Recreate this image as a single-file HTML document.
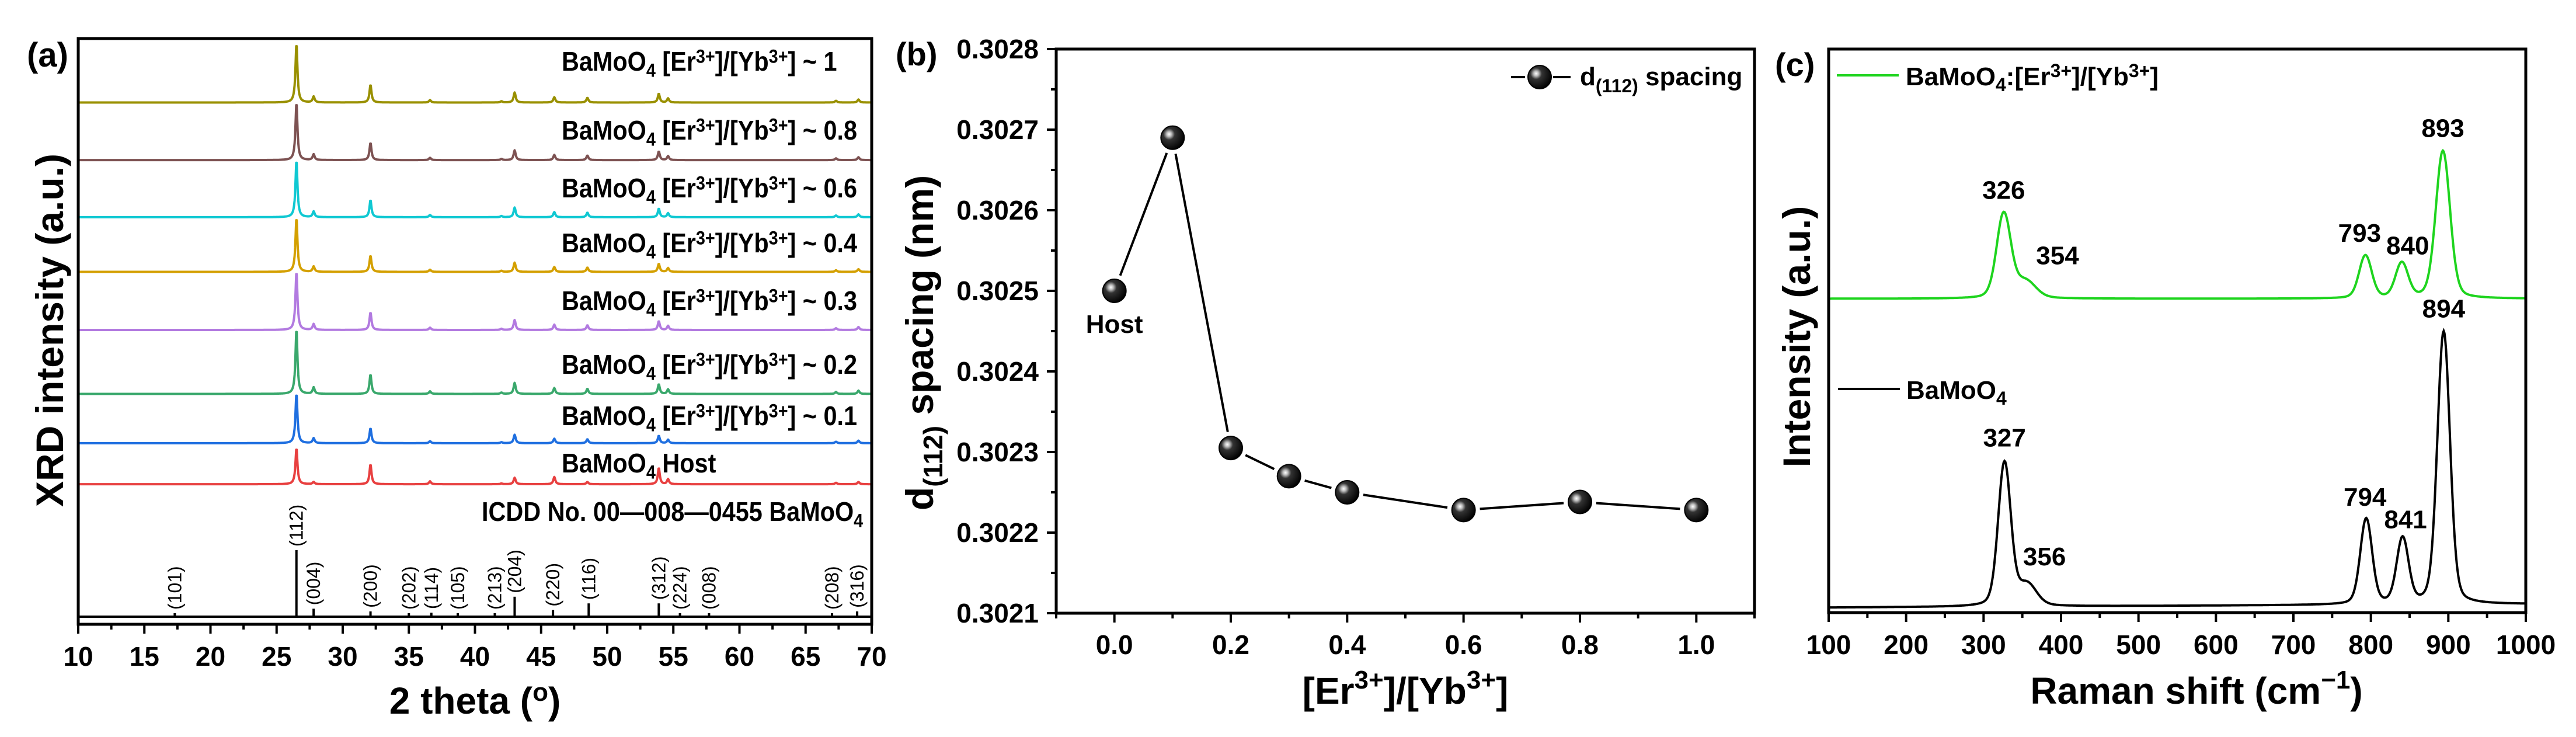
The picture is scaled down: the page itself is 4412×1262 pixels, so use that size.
<!DOCTYPE html>
<html><head><meta charset="utf-8">
<style>
html,body{margin:0;padding:0;background:#fff;}
svg{display:block;font-family:"Liberation Sans",Arial,sans-serif;font-weight:bold;}
</style></head>
<body>
<svg id="fig" width="4412" height="1262" viewBox="0 0 4412 1262" xmlns="http://www.w3.org/2000/svg">
<defs>
<radialGradient id="ball" cx="0.35" cy="0.35" r="0.7">
<stop offset="0" stop-color="#ffffff"/><stop offset="0.15" stop-color="#bbbbbb"/><stop offset="0.35" stop-color="#333"/><stop offset="1" stop-color="#000"/>
</radialGradient>
</defs>
<g id="pa"></g>
<g id="pb"></g>
<g id="pc"></g>
</svg>
<script>
// ---------- Panel (a) XRD data ----------
const xrdPeakPos = [26.5, 27.8, 32.1, 36.6, 42.0, 43.0, 46.0, 48.5, 53.9, 54.6, 67.3, 69.0];
const xrdPeakRel = [100, 10, 30, 4, 2, 17, 9, 8, 15, 7, 3, 5];
const xrdRedRel = [100, 6, 55, 8, 2, 18, 20, 6, 45, 14, 4, 6];
const xrdSamples = ["~ 1", "~ 0.8", "~ 0.6", "~ 0.4", "~ 0.3", "~ 0.2", "~ 0.1", "Host"];
const xrdBaselines = [1069, 951, 834, 722, 603, 472, 371, 287];
const xrdMainHeights = [121, 118, 117, 111, 120, 133, 102, 74];
const xrdColors = ["#999000", "#7d5252", "#10c8d2", "#d4a000", "#b27ae0", "#3aa86c", "#1f6fe0", "#e84040"];
const refPeakPos = [17.3, 26.5, 27.8, 32.1, 35.0, 36.7, 38.7, 41.5, 43.0, 45.9, 48.6, 53.9, 55.5, 57.7, 67.0, 68.9];
const refPeakInt = [3, 100, 12, 8, 3, 6, 3, 4, 30, 10, 20, 20, 5, 3, 5, 8];
const refLabels = ["(101)", "(112)", "(004)", "(200)", "(202)", "(114)", "(105)", "(213)", "(204)", "(220)", "(116)", "(312)", "(224)", "(008)", "(208)", "(316)"];
const xrdTicks = [10, 15, 20, 25, 30, 35, 40, 45, 50, 55, 60, 65, 70];

// ---------- Panel (b) data ----------
const ratioX = [0.0, 0.1, 0.2, 0.3, 0.4, 0.6, 0.8, 1.0];
const dSpacing = [0.30250, 0.30269, 0.302305, 0.30227, 0.30225, 0.302228, 0.302238, 0.302228];
const bXTicks = [0.0, 0.2, 0.4, 0.6, 0.8, 1.0];
const bYTicks = [0.3021, 0.3022, 0.3023, 0.3024, 0.3025, 0.3026, 0.3027, 0.3028];

// ---------- Panel (c) Raman data ----------
const ramanPosG = [326, 354, 793, 840, 893];
const ramanHtG = [150, 30, 76, 62, 262];
const ramanWG = [9, 13, 8, 8, 9];
const ramanBaseG = 557;
const ramanPosK = [327, 356, 794, 841, 894];
const ramanHtK = [255, 38, 152, 116, 484];
const ramanWK = [8, 12, 7.5, 7.5, 8];
const ramanBaseK = 15;
const ramanLabelsG = ["326", "354", "793", "840", "893"];
const ramanLabelsK = ["327", "356", "794", "841", "894"];
const cXTicks = [100, 200, 300, 400, 500, 600, 700, 800, 900, 1000];

const NS = "http://www.w3.org/2000/svg";
function mk(parent, tag, attrs) {
  const e = document.createElementNS(NS, tag);
  for (const k in attrs) e.setAttribute(k, attrs[k]);
  parent.appendChild(e);
  return e;
}
function txt(parent, x, y, s, size, anchor) {
  const t = mk(parent, "text", {x: x, y: y, "font-size": size, "text-anchor": anchor || "middle", fill: "#000"});
  t.textContent = s;
  return t;
}
function sup(t, s, size, shift) {
  const ts = document.createElementNS(NS, "tspan");
  ts.setAttribute("font-size", size);
  ts.setAttribute("baseline-shift", shift);
  ts.textContent = s;
  t.appendChild(ts);
  return ts;
}
function plain(t, s) {
  const ts = document.createElementNS(NS, "tspan");
  ts.textContent = s;
  t.appendChild(ts);
  return ts;
}

// ================= Panel A =================
(function () {
  const g = document.getElementById("pa");
  const L = 134, R = 1493, T = 66, B = 1069;
  const xs = v => L + (v - 10) / 60 * (R - L);
  const ys = v => B - v * (B - T) / 1200;
  for (let k = 0; k < xrdSamples.length; k++) {
    const rel = k === 7 ? xrdRedRel : xrdPeakRel;
    let d = "";
    for (let x = 10; x <= 70.001; x += 0.04) {
      let s = 0;
      for (let i = 0; i < xrdPeakPos.length; i++) {
        const dx = (x - xrdPeakPos[i]) / 0.09;
        s += rel[i] / 100 * xrdMainHeights[k] / (1 + dx * dx);
      }
      d += (d ? "L" : "M") + xs(x).toFixed(1) + "," + ys(xrdBaselines[k] + s).toFixed(1) + " ";
    }
    const p = mk(g, "path", {d: d, fill: "none", stroke: xrdColors[k], "stroke-width": 4, "stroke-linejoin": "round"});
    
    
  }
  // sample labels
  const labelY = [121, 239, 338, 432, 531, 640, 728, 809];
  for (let k = 0; k < xrdSamples.length; k++) {
    const t = mk(g, "text", {x: 0, y: 0, "font-size": 46, "text-anchor": "start", transform: "translate(962," + labelY[k] + ") scale(0.9,1)"});
    plain(t, "BaMoO");
    sup(t, "4", 32, "-10");
    if (xrdSamples[k] === "Host") { plain(t, " Host"); }
    else {
      plain(t, " [Er"); sup(t, "3+", 32, "14"); plain(t, "]/[Yb"); sup(t, "3+", 32, "14"); plain(t, "] " + xrdSamples[k]);
    }
    
    
  }
  const ic = mk(g, "text", {x: 0, y: 0, "font-size": 46, "text-anchor": "start", transform: "translate(825,892) scale(0.9,1)"});
  plain(ic, "ICDD No. 00\u2014008\u20140455 BaMoO");
  sup(ic, "4", 32, "-10");
  
  
  // reference sticks
  const refBase = 1056;
  mk(g, "line", {x1: L, x2: R, y1: refBase, y2: refBase, stroke: "#000", "stroke-width": 4});
  for (let i = 0; i < refPeakPos.length; i++) {
    const x = xs(refPeakPos[i]);
    const h = refPeakInt[i] / 100 * 114;
    const s = mk(g, "line", {x1: x, x2: x, y1: refBase, y2: refBase - Math.max(h, 6), stroke: "#000", "stroke-width": 4});
    
    
    const ly = refBase - Math.max(h, 6) - 6;
    const t = mk(g, "text", {x: 0, y: 0, "font-size": 32, "font-weight": "normal", "text-anchor": "start", transform: "translate(" + (x + 11) + "," + ly + ") rotate(-90)"});
    t.textContent = refLabels[i];
    
    
  }
  // frame
  mk(g, "rect", {x: L, y: T, width: R - L, height: B - T, fill: "none", stroke: "#000", "stroke-width": 5});
  for (let v = 10; v <= 70; v += 2.5) {
    const major = Math.abs(v % 5) < 1e-6;
    mk(g, "line", {x1: xs(v), x2: xs(v), y1: B, y2: B + (major ? 16 : 9), stroke: "#000", "stroke-width": 4});
  }
  xrdTicks.forEach(v => { const t = txt(g, xs(v), 1140, String(v), 46);   });
  const xt = txt(g, (L + R) / 2, 1222, "2 theta (", 64); sup(xt, "o", 44, "22"); plain(xt, ")");
   
  const yt = mk(g, "text", {x: 0, y: 0, "font-size": 66, "text-anchor": "middle", transform: "translate(108," + ((T + B) / 2 - 2) + ") rotate(-90)"});
  yt.textContent = "XRD intensity (a.u.)";
   
  const pl = txt(g, 46, 114, "(a)", 58, "start");
   
})();

// ================= Panel B =================
(function () {
  const g = document.getElementById("pb");
  const L = 1809, R = 3005, T = 84, B = 1050;
  const xs = v => L + (v + 0.1) / 1.2 * (R - L);
  const ys = v => B - (v - 0.3021) / 0.0007 * (B - T);
  mk(g, "rect", {x: L, y: T, width: R - L, height: B - T, fill: "none", stroke: "#000", "stroke-width": 5});
  for (let i = -1; i <= 11; i++) {
    const v = i / 10, major = (i % 2 === 0);
    mk(g, "line", {x1: xs(v), x2: xs(v), y1: B, y2: B + (major ? 16 : 9), stroke: "#000", "stroke-width": 4});
  }
  bXTicks.forEach(v => { const t = txt(g, xs(v), 1120, v.toFixed(1), 46);   });
  for (let i = 0; i <= 14; i++) {
    const v = 0.3021 + i * 0.00005;
    mk(g, "line", {x1: L, x2: L - (i % 2 === 0 ? 16 : 9), y1: ys(v), y2: ys(v), stroke: "#000", "stroke-width": 4});
  }
  bYTicks.forEach(v => { const t = txt(g, 1779, ys(v) + 16, v.toFixed(4), 46, "end");   });
  for (let i = 0; i < ratioX.length - 1; i++) {
    const x1 = xs(ratioX[i]), y1 = ys(dSpacing[i]), x2 = xs(ratioX[i + 1]), y2 = ys(dSpacing[i + 1]);
    const len = Math.hypot(x2 - x1, y2 - y1), gap = 28;
    if (len <= 2 * gap) continue;
    const ux = (x2 - x1) / len, uy = (y2 - y1) / len;
    const s = mk(g, "line", {x1: x1 + ux * gap, y1: y1 + uy * gap, x2: x2 - ux * gap, y2: y2 - uy * gap, stroke: "#000", "stroke-width": 4});
     
  }
  for (let i = 0; i < ratioX.length; i++) {
    const c = mk(g, "ellipse", {cx: xs(ratioX[i]), cy: ys(dSpacing[i]), rx: 20, ry: 20, fill: "url(#ball)", stroke: "#000", "stroke-width": 2});
    
    
  }
  const h = txt(g, xs(0), 570, "Host", 44);  
  mk(g, "line", {x1: 2588, x2: 2612, y1: 132, y2: 132, stroke: "#000", "stroke-width": 4});
  mk(g, "line", {x1: 2660, x2: 2690, y1: 132, y2: 132, stroke: "#000", "stroke-width": 4});
  const lm = mk(g, "ellipse", {cx: 2637, cy: 132, rx: 20, ry: 20, fill: "url(#ball)", stroke: "#000", "stroke-width": 2});
   
  const lt = txt(g, 2706, 146, "d", 44, "start"); sup(lt, "(112)", 32, "-12"); plain(lt, " spacing");
   
  const xt = txt(g, (L + R) / 2, 1205, "[Er", 64); sup(xt, "3+", 44, "26"); plain(xt, "]/[Yb"); sup(xt, "3+", 44, "26"); plain(xt, "]");
   
  const yt = mk(g, "text", {x: 0, y: 0, "font-size": 66, "text-anchor": "middle", transform: "translate(1598," + ((T + B) / 2 + 20) + ") rotate(-90)"});
  plain(yt, "d"); sup(yt, "(112)", 46, "-16"); plain(yt, " spacing (nm)");
   
  const pl = txt(g, 1534, 112, "(b)", 56, "start");
   
})();

// ================= Panel C =================
(function () {
  const g = document.getElementById("pc");
  const L = 3132, R = 4326, T = 84, B = 1049;
  const xs = v => L + (v - 100) / 900 * (R - L);
  const ys = v => B - v * (B - T) / 1000;
  function spec(pos, ht, w, base, tilt) {
    let d = "";
    for (let x = 100; x <= 1000.01; x += 1) {
      let s = base + tilt * (1 - (x - 100) / 900);
      for (let i = 0; i < pos.length; i++) {
        const dx = (x - pos[i]) / w[i];
        s += ht[i] * (0.8 * Math.exp(-0.5 * dx * dx) + 0.2 / (1 + dx * dx / 2));
      }
      d += (d ? "L" : "M") + xs(x).toFixed(1) + "," + ys(s).toFixed(1) + " ";
    }
    return d;
  }
  const pg = mk(g, "path", {d: spec(ramanPosG, ramanHtG, ramanWG, ramanBaseG, 0), fill: "none", stroke: "#1ed41e", "stroke-width": 4});
   
  const pk = mk(g, "path", {d: spec(ramanPosK, ramanHtK, ramanWK, ramanBaseK, -6), fill: "none", stroke: "#000", "stroke-width": 4});
   
  const offG = [[0, -26], [-5, -20], [-10, -24], [10, -16], [0, -24]];
  const offK = [[0, -24], [-10, -18], [-2, -22], [5, -18], [0, -24]];
  for (let i = 0; i < ramanPosG.length; i++) {
    const t = txt(g, xs(ramanPosG[i]) + offG[i][0] + (i === 1 ? 60 : 0), ys(ramanBaseG + ramanHtG[i]) + offG[i][1] + (i === 1 ? -10 : 0), ramanLabelsG[i], 44);
     
  }
  for (let i = 0; i < ramanPosK.length; i++) {
    const t = txt(g, xs(ramanPosK[i]) + offK[i][0] + (i === 1 ? 40 : 0), ys(ramanBaseK + ramanHtK[i]) + offK[i][1] + (i === 1 ? -12 : 0), ramanLabelsK[i], 44);
     
  }
  mk(g, "rect", {x: L, y: T, width: R - L, height: B - T, fill: "none", stroke: "#000", "stroke-width": 5});
  for (let v = 100; v <= 1000; v += 50) {
    mk(g, "line", {x1: xs(v), x2: xs(v), y1: B, y2: B + (v % 100 === 0 ? 16 : 9), stroke: "#000", "stroke-width": 4});
  }
  cXTicks.forEach(v => { const t = txt(g, xs(v), 1120, String(v), 46);   });
  mk(g, "line", {x1: 3146, x2: 3252, y1: 129, y2: 129, stroke: "#1ed41e", "stroke-width": 4});
  const l1 = txt(g, 3264, 146, "BaMoO", 44, "start"); sup(l1, "4", 32, "-10"); plain(l1, ":[Er"); sup(l1, "3+", 32, "14"); plain(l1, "]/[Yb"); sup(l1, "3+", 32, "14"); plain(l1, "]");
   
  mk(g, "line", {x1: 3148, x2: 3254, y1: 666, y2: 666, stroke: "#000", "stroke-width": 4});
  const l2 = txt(g, 3265, 683, "BaMoO", 44, "start"); sup(l2, "4", 32, "-10");
   
  const xt = txt(g, 3762, 1205, "Raman shift (cm", 64); sup(xt, "\u22121", 44, "26"); plain(xt, ")");
   
  const yt = mk(g, "text", {x: 0, y: 0, "font-size": 66, "text-anchor": "middle", transform: "translate(3100," + ((T + B) / 2 + 10) + ") rotate(-90)"});
  yt.textContent = "Intensity (a.u.)";
   
  const pl = txt(g, 3040, 130, "(c)", 56, "start");
   
})();
</script>
</body></html>
